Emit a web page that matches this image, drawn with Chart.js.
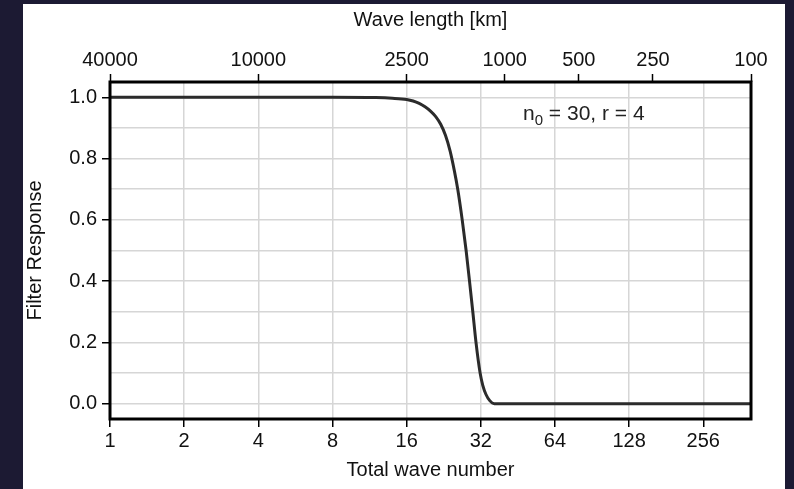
<!DOCTYPE html>
<html>
<head>
<meta charset="utf-8">
<script src="https://cdn.jsdelivr.net/npm/chart.js@4.4.1/dist/chart.umd.min.js"></script>
<style>
  html, body { margin: 0; padding: 0; }
  body { width: 794px; height: 489px; background: #1c1a33; position: relative; overflow: hidden; }
  #panel { position: absolute; left: 23px; top: 4px; width: 762px; height: 485px; background: #ffffff; }
</style>
</head>
<body>
<div id="panel"><canvas id="filterChart" width="762" height="485"></canvas></div>
<script>
// wave numbers and filter response
var waveNumber = [1, 4, 8, 12, 14, 16, 17, 18, 19, 20, 21, 22, 23, 24, 25, 25.8, 26.9, 27.9, 28.8, 29.7, 30.6, 31.8, 32.6, 33.6, 34.8, 36.3, 40, 100, 400];
var response   = [1.0, 1.0, 1.0, 0.999, 0.997, 0.993, 0.988, 0.980, 0.969, 0.955, 0.937, 0.912, 0.876, 0.826, 0.76, 0.70, 0.60, 0.50, 0.40, 0.30, 0.20, 0.10, 0.06, 0.03, 0.01, 0.0, 0.0, 0.0, 0.0];

// axis ticks
var bottomTicks = [1, 2, 4, 8, 16, 32, 64, 128, 256];
var topTickWaveNumbers = [1, 4, 16, 40, 80, 160, 400];
var topTickLabels = ['40000', '10000', '2500', '1000', '500', '250', '100'];
var yTicks = [0, 0.1, 0.2, 0.3, 0.4, 0.5, 0.6, 0.7, 0.8, 0.9, 1.0];

Chart.defaults.font.family = '"Liberation Sans", Arial, sans-serif';
Chart.defaults.font.size = 20;
Chart.defaults.color = '#111';

var points = waveNumber.map(function (n, i) { return { x: n, y: response[i] }; });

var frameAndNote = {
  id: 'frameAndNote',
  afterDraw: function (chart) {
    var c = chart.ctx, a = chart.chartArea;
    c.save();
    c.lineWidth = 3;
    c.strokeStyle = '#000';
    c.strokeRect(a.left, a.top, a.right - a.left, a.bottom - a.top);
    // annotation n0 = 30, r = 4
    var x = a.left + 413, y = a.top + 38;
    c.fillStyle = '#222';
    c.textBaseline = 'alphabetic';
    c.font = '21px "Liberation Sans", Arial, sans-serif';
    c.fillText('n', x, y);
    x += c.measureText('n').width;
    c.font = '15px "Liberation Sans", Arial, sans-serif';
    c.fillText('0', x, y + 5);
    x += c.measureText('0').width;
    c.font = '21px "Liberation Sans", Arial, sans-serif';
    c.fillText(' = 30, r = 4', x, y);
    c.restore();
  }
};

var ctx = document.getElementById('filterChart');
var myChart = new Chart(ctx, {
  type: 'line',
  data: {
    datasets: [{
      data: points,
      borderColor: '#2b2b2b',
      borderWidth: 3,
      pointRadius: 0,
      cubicInterpolationMode: 'monotone',
      fill: false
    }]
  },
  options: {
    responsive: false,
    animation: false,
    layout: { padding: { right: 34 } },
    plugins: { legend: { display: false }, tooltip: { enabled: false } },
    scales: {
      x: {
        type: 'logarithmic',
        position: 'bottom',
        min: 1,
        max: 400,
        afterBuildTicks: function (s) { s.ticks = bottomTicks.map(function (v) { return { value: v }; }); },
        afterFit: function (s) { s.height = 70; },
        ticks: {
          padding: 2,
          autoSkip: false,
          maxRotation: 0,
          callback: function (v) { return String(v); }
        },
        grid: { color: '#d6d6d6', lineWidth: 1.5, tickColor: '#000', tickLength: 8, tickWidth: 1.5 },
        border: { display: false },
        title: { display: true, text: 'Total wave number', padding: { top: 0, bottom: 7 } }
      },
      x2: {
        type: 'logarithmic',
        position: 'top',
        min: 1,
        max: 400,
        afterBuildTicks: function (s) { s.ticks = topTickWaveNumbers.map(function (v) { return { value: v }; }); },
        afterFit: function (s) { s.height = 78; },
        ticks: {
          padding: 2,
          autoSkip: false,
          maxRotation: 0,
          callback: function (v, i) { return topTickLabels[i]; }
        },
        grid: { drawOnChartArea: false, tickColor: '#000', tickLength: 8, tickWidth: 1.5 },
        border: { display: false },
        title: { display: true, text: 'Wave length [km]', padding: { top: 4, bottom: 0 } }
      },
      y: {
        min: -0.05,
        max: 1.05,
        afterBuildTicks: function (s) { s.ticks = yTicks.map(function (v) { return { value: v }; }); },
        afterFit: function (s) { s.width = 87; },
        ticks: {
          padding: 5,
          autoSkip: false,
          callback: function (v, i) { return i % 2 === 0 ? v.toFixed(1) : ''; }
        },
        grid: {
          color: '#d6d6d6',
          lineWidth: 1.5,
          tickLength: 8,
          tickWidth: 1.5,
          tickColor: function (c) { return c.index % 2 === 0 ? '#000' : 'rgba(0,0,0,0)'; }
        },
        border: { display: false },
        title: { display: true, text: 'Filter Response', padding: 0 }
      }
    }
  },
  plugins: [frameAndNote]
});
</script>
</body>
</html>
